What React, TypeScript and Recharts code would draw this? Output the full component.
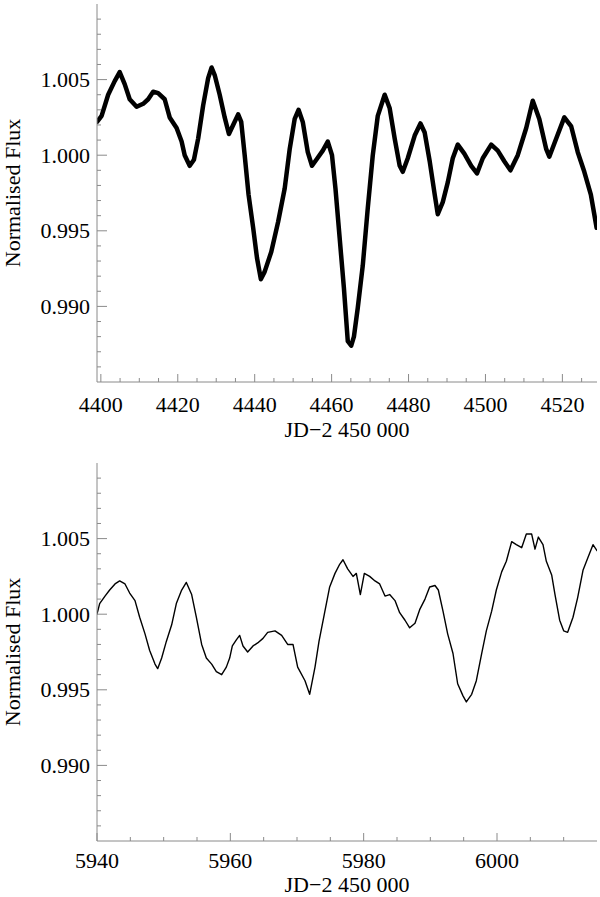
import React from 'react';
import { LineChart, Line, XAxis, YAxis } from 'recharts';

// Light curve, first season (JD - 2450000)
const topJD = [
  4399.0, 4400.2, 4401.9, 4403.6, 4404.9, 4406.2, 4407.5, 4409.3, 4411.0, 4412.3,
  4413.6, 4414.9, 4416.6, 4417.9, 4419.7, 4421.0, 4421.8, 4423.1, 4424.2, 4425.3,
  4426.6, 4427.9, 4428.8, 4429.6, 4430.9, 4432.2, 4433.3, 4434.4, 4435.7, 4436.5,
  4437.4, 4438.4, 4439.6, 4440.6, 4441.6, 4442.6, 4444.3, 4446.1, 4447.8, 4449.1,
  4450.4, 4451.4, 4452.5, 4453.8, 4454.9, 4456.3, 4457.7, 4459.0, 4460.1, 4461.0,
  4462.1, 4463.2, 4464.2, 4465.1, 4465.8, 4466.8, 4468.1, 4469.4, 4470.7, 4472.0,
  4473.8, 4475.1, 4476.4, 4477.7, 4478.5, 4479.8, 4481.6, 4483.1, 4484.2, 4485.5,
  4486.8, 4487.6, 4488.9, 4490.2, 4491.5, 4492.8, 4494.5, 4496.3, 4497.8, 4499.3,
  4501.5, 4503.2, 4504.9, 4506.5, 4508.4, 4510.6, 4512.3, 4514.0, 4515.8, 4516.6,
  4518.4, 4520.5, 4522.3, 4524.0, 4525.7, 4527.4, 4528.9,
];
const topFlux = [
  1.0022, 1.0026, 1.0040, 1.0049, 1.0055, 1.0047, 1.0037, 1.0032, 1.0034, 1.0037,
  1.0042, 1.0041, 1.0037, 1.0025, 1.0018, 1.0009, 1.0000, 0.9993, 0.9997, 1.0011,
  1.0033, 1.0051, 1.0058, 1.0053, 1.0040, 1.0025, 1.0014, 1.0020, 1.0027, 1.0022,
  1.0000, 0.9974, 0.9952, 0.9932, 0.9918, 0.9923, 0.9936, 0.9956, 0.9978, 1.0004,
  1.0024, 1.0030, 1.0022, 1.0002, 0.9993, 0.9998, 1.0003, 1.0009, 1.0000, 0.9978,
  0.9945, 0.9912, 0.9877, 0.9874, 0.9880, 0.9899, 0.9927, 0.9965, 1.0000, 1.0026,
  1.0040, 1.0031, 1.0011, 0.9993, 0.9989, 0.9998, 1.0013, 1.0021, 1.0015, 0.9996,
  0.9974, 0.9961, 0.9969, 0.9982, 0.9998, 1.0007, 1.0001, 0.9993, 0.9988, 0.9998,
  1.0007, 1.0003, 0.9996, 0.9990, 1.0000, 1.0018, 1.0036, 1.0024, 1.0004, 0.9999,
  1.0011, 1.0025, 1.0019, 1.0002, 0.9989, 0.9974, 0.9952,
];

// Light curve, second season
const bottomJD = [
  5940.0, 5940.4, 5941.2, 5941.9, 5942.7, 5943.4, 5944.2, 5944.9, 5945.7, 5946.4,
  5947.2, 5947.9, 5948.7, 5949.1, 5949.7, 5950.4, 5951.2, 5951.9, 5952.7, 5953.4,
  5954.2, 5954.9, 5955.7, 5956.4, 5957.2, 5957.9, 5958.7, 5959.4, 5959.9, 5960.3,
  5960.9, 5961.4, 5961.9, 5962.6, 5963.4, 5964.1, 5964.9, 5965.6, 5966.7, 5967.7,
  5968.6, 5969.4, 5970.1, 5971.2, 5971.9, 5972.7, 5973.3, 5974.1, 5974.9, 5975.7,
  5976.4, 5976.9, 5977.6, 5978.4, 5978.9, 5979.5, 5980.1, 5980.9, 5981.7, 5982.4,
  5983.2, 5983.9, 5984.7, 5985.4, 5986.2, 5986.9, 5987.7, 5988.4, 5989.2, 5989.9,
  5990.7, 5991.2, 5991.9, 5992.6, 5993.4, 5994.1, 5994.9, 5995.4, 5996.2, 5996.9,
  5997.7, 5998.4, 5999.2, 5999.9, 6000.7, 6001.4, 6002.2, 6002.9, 6003.7, 6004.4,
  6005.2, 6005.7, 6006.2, 6006.9, 6007.4, 6008.2, 6008.7, 6009.4, 6010.0, 6010.6,
  6011.4, 6012.1, 6012.9, 6013.6, 6014.4, 6015.0,
];
const bottomFlux = [
  1.0000, 1.0007, 1.0012, 1.0016, 1.0020, 1.0022, 1.0020, 1.0014, 1.0009, 0.9998,
  0.9987, 0.9976, 0.9967, 0.9964, 0.9971, 0.9982, 0.9993, 1.0007, 1.0016, 1.0021,
  1.0013, 0.9998, 0.9980, 0.9971, 0.9967, 0.9962, 0.9960, 0.9965, 0.9971, 0.9979,
  0.9983, 0.9986, 0.9979, 0.9975, 0.9979, 0.9981, 0.9984, 0.9988, 0.9989, 0.9986,
  0.9980, 0.9980, 0.9965, 0.9956, 0.9947, 0.9965, 0.9982, 1.0000, 1.0018, 1.0027,
  1.0033, 1.0036, 1.0030, 1.0025, 1.0027, 1.0013, 1.0027, 1.0025, 1.0022, 1.0020,
  1.0012, 1.0013, 1.0009, 1.0001, 0.9996, 0.9991, 0.9994, 1.0003, 1.0010, 1.0018,
  1.0019, 1.0016, 1.0002, 0.9987, 0.9974, 0.9954, 0.9946, 0.9942, 0.9947, 0.9956,
  0.9974, 0.9989, 1.0002, 1.0016, 1.0028, 1.0035, 1.0048, 1.0046, 1.0044, 1.0053,
  1.0053, 1.0043, 1.0051, 1.0046, 1.0035, 1.0026, 1.0013, 0.9996, 0.9989, 0.9988,
  0.9998, 1.0011, 1.0029, 1.0037, 1.0046, 1.0042,
];

const fluxTicks = [
  0.986, 0.987, 0.988, 0.989, 0.99, 0.991, 0.992, 0.993, 0.994, 0.995, 0.996, 0.997,
  0.998, 0.999, 1.0, 1.001, 1.002, 1.003, 1.004, 1.005, 1.006, 1.007, 1.008, 1.009,
];
const fluxLabels = [0.99, 0.995, 1.0, 1.005];

const topTicks = [
  4400, 4405, 4410, 4415, 4420, 4425, 4430, 4435, 4440, 4445, 4450, 4455, 4460,
  4465, 4470, 4475, 4480, 4485, 4490, 4495, 4500, 4505, 4510, 4515, 4520, 4525,
];
const topLabels = [4400, 4420, 4440, 4460, 4480, 4500, 4520];

const bottomTicks = [
  5940, 5945, 5950, 5955, 5960, 5965, 5970, 5975, 5980, 5985, 5990, 5995, 6000,
  6005, 6010,
];
const bottomLabels = [5940, 5960, 5980, 6000];

const FRAME = '#8a8a8a';
const FONT = 'Liberation Serif';
const FS = 22;

const isMajor = (v: number, list: number[]) => list.some((m) => Math.abs(m - v) < 1e-7);

const leftTick = (props: any) => {
  const { x, y, payload } = props;
  const major = isMajor(payload.value, fluxLabels);
  return (
    <g>
      <line x1={x} x2={x + (major ? 10 : 4)} y1={y} y2={y} stroke={FRAME} />
      {major && (
        <text x={x - 7} y={y} dy="0.34em" textAnchor="end" fontFamily={FONT} fontSize={FS} fill="#000">
          {payload.value.toFixed(3)}
        </text>
      )}
    </g>
  );
};

const rightTick = (props: any) => {
  const { x, y, payload } = props;
  const major = isMajor(payload.value, fluxLabels);
  return <line x1={x} x2={x - (major ? 10 : 4)} y1={y} y2={y} stroke={FRAME} />;
};

const makeBottomTick = (labels: number[], off: number) => (props: any) => {
  const { x, y, payload } = props;
  const major = isMajor(payload.value, labels);
  return (
    <g>
      <line x1={x} x2={x} y1={y} y2={y - (major ? 8 : 4)} stroke={FRAME} />
      {major && (
        <text x={x} y={y + off} textAnchor="middle" fontFamily={FONT} fontSize={FS} fill="#000">
          {payload.value}
        </text>
      )}
    </g>
  );
};

const makeTopTick = (labels: number[]) => (props: any) => {
  const { x, y, payload } = props;
  const major = isMajor(payload.value, labels);
  return <line x1={x} x2={x} y1={y} y2={y + (major ? 8 : 4)} stroke={FRAME} />;
};

interface PanelProps {
  jd: number[];
  flux: number[];
  domain: [number, number];
  ticks: number[];
  labels: number[];
  width: number;
  tickOff: number;
  labelDy: number;
}

const Panel: React.FC<PanelProps> = ({ jd, flux, domain, ticks, labels, width, tickOff, labelDy }) => {
  const data = jd.map((t, i) => ({ jd: t, flux: flux[i] }));
  return (
    <LineChart width={600} height={450} data={data} margin={{ top: 4, right: 3, bottom: 0, left: 0 }}>
      <XAxis
        dataKey="jd"
        type="number"
        domain={domain}
        allowDataOverflow
        ticks={ticks}
        interval={0}
        tickSize={0}
        tickMargin={0}
        height={68}
        axisLine={{ stroke: FRAME }}
        tickLine={false}
        tick={makeBottomTick(labels, tickOff)}
        label={{
          value: 'JD\u22122 450 000',
          position: 'center',
          dy: labelDy,
          fontFamily: FONT,
          fontSize: FS,
          fill: '#000',
        }}
      />
      <XAxis
        xAxisId="top"
        orientation="top"
        type="number"
        dataKey="jd"
        domain={domain}
        allowDataOverflow
        ticks={ticks}
        interval={0}
        tickSize={0}
        tickMargin={0}
        height={0}
        axisLine={{ stroke: FRAME }}
        tickLine={false}
        tick={makeTopTick(labels)}
      />
      <YAxis
        type="number"
        domain={[0.985, 1.01]}
        allowDataOverflow
        ticks={fluxTicks}
        interval={0}
        tickSize={0}
        tickMargin={0}
        width={97}
        axisLine={{ stroke: FRAME }}
        tickLine={false}
        tick={leftTick}
        label={{
          value: 'Normalised Flux',
          angle: -90,
          position: 'center',
          dx: -36,
          fontFamily: FONT,
          fontSize: FS,
          fill: '#000',
        }}
      />
      <YAxis
        yAxisId="right"
        orientation="right"
        type="number"
        domain={[0.985, 1.01]}
        allowDataOverflow
        ticks={fluxTicks}
        interval={0}
        tickSize={0}
        tickMargin={0}
        width={0}
        axisLine={{ stroke: FRAME }}
        tickLine={false}
        tick={rightTick}
      />
      <Line
        dataKey="flux"
        type="linear"
        stroke="#000"
        strokeWidth={width}
        strokeLinejoin="round"
        strokeLinecap="round"
        dot={false}
        isAnimationActive={false}
      />
    </LineChart>
  );
};

export default function App() {
  return (
    <div style={{ position: 'absolute', left: 0, top: 0, width: 600, height: 897, background: '#fff' }}>
      <div style={{ position: 'absolute', left: 0, top: 0 }}>
        <Panel
          jd={topJD}
          flux={topFlux}
          domain={[4399, 4529]}
          ticks={topTicks}
          labels={topLabels}
          width={4.5}
          tickOff={30}
          labelDy={13}
        />
      </div>
      <div style={{ position: 'absolute', left: 0, top: 459 }}>
        <Panel
          jd={bottomJD}
          flux={bottomFlux}
          domain={[5940, 6015]}
          ticks={bottomTicks}
          labels={bottomLabels}
          width={1.4}
          tickOff={27}
          labelDy={9}
        />
      </div>
    </div>
  );
}
